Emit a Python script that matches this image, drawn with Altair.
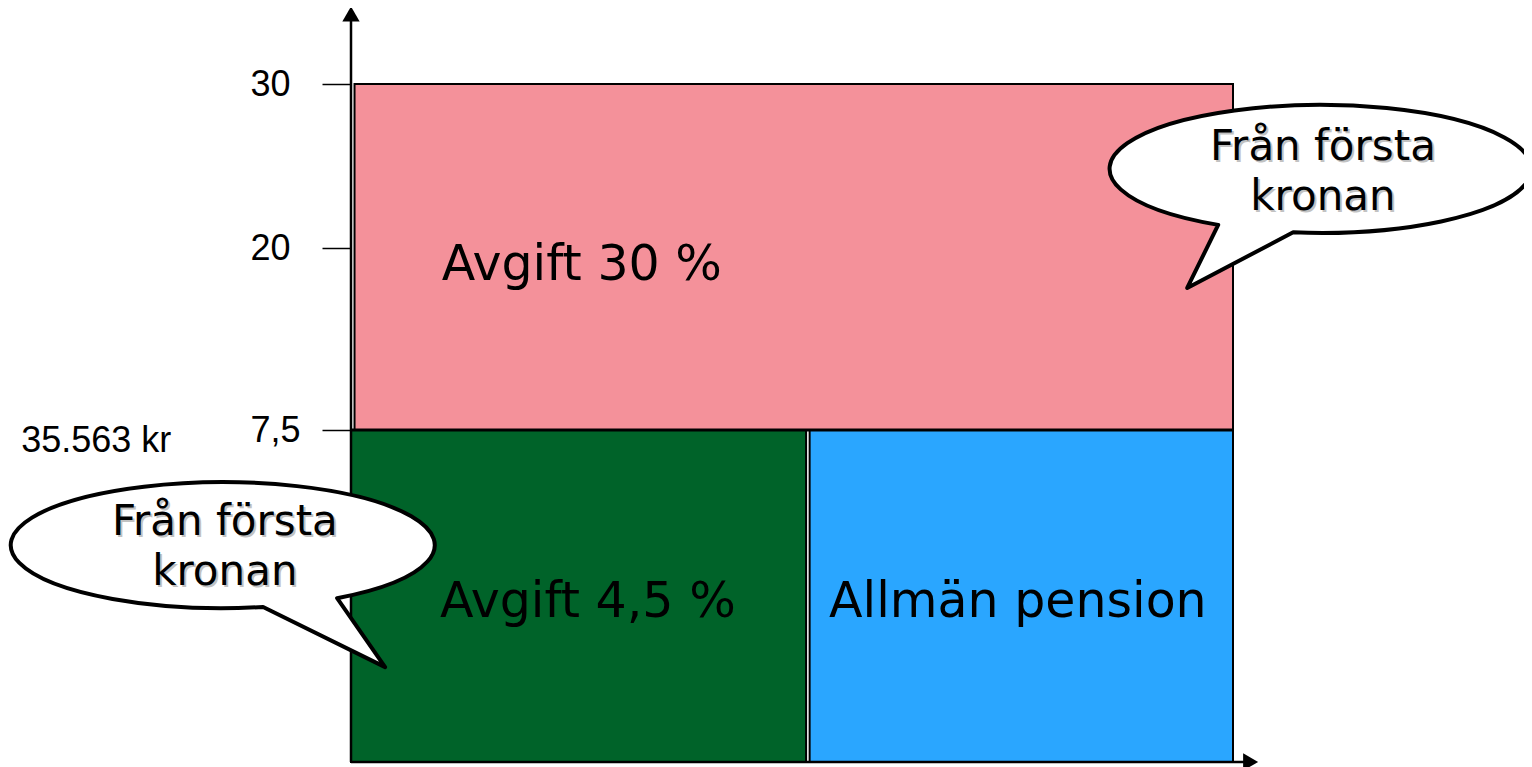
import altair as alt
import pandas as pd

# ---------------- data ----------------
# schematic, non-linear y axis (per cent of income)
Y_BREAKS = [0, 7.5, 20, 30]
Y_TICKS = [7.5, 20, 30]

BLOCK_NAMES = ["Avgift 30 %", "Avgift 4,5 %", "Allmän pension"]
BLOCK_X0 = [0.4, 0.0, 52.0]
BLOCK_X1 = [100.0, 51.6, 100.0]
BLOCK_Y0 = [7.5, 0.0, 0.0]
BLOCK_Y1 = [30.0, 7.5, 7.5]
BLOCK_COLORS = ["#F4919A", "#006329", "#2AA6FF"]

THRESHOLD_LABEL = "35.563 kr"
CALLOUT_LINES = ["Från första", "kronan"]

# axis extents (arrow heads), in data units
X_ARROW = 102.0
Y_ARROW = 34.27

# ---------------- scales ----------------
xs = alt.Scale(domain=[0, 100], range=[0, 882], nice=False, zero=False)
ys = alt.Scale(domain=Y_BREAKS, range=[754, 422, 240, 76], nice=False, zero=False)

blocks = pd.DataFrame({
    "name": BLOCK_NAMES, "x0": BLOCK_X0, "x1": BLOCK_X1,
    "y0": BLOCK_Y0, "y1": BLOCK_Y1,
})

rects = alt.Chart(blocks).mark_rect(stroke="black", strokeWidth=2).encode(
    x=alt.X("x0:Q", scale=xs, axis=None),
    x2="x1:Q",
    y=alt.Y("y0:Q", scale=ys, axis=alt.Axis(
        values=Y_TICKS, title=None, domain=False, grid=False,
        tickColor="black", tickSize=29, tickWidth=1.5,
        labelFont="Liberation Sans", labelFontSize=36, labelColor="black",
        labelAlign="left", labelPadding=72, labelBaseline="middle",
        labelExpr="replace(toString(datum.value), '.', ',')")),
    y2="y1:Q",
    fill=alt.Fill("name:N", scale=alt.Scale(domain=BLOCK_NAMES, range=BLOCK_COLORS), legend=None),
)

# thicker border between the upper block and the lower blocks
split_df = pd.DataFrame({"x0": [0.0], "x1": [100.0], "y": [7.5]})
split_line = alt.Chart(split_df).mark_rule(color="black", strokeWidth=3).encode(
    x=alt.X("x0:Q", scale=xs), x2="x1:Q", y=alt.Y("y:Q", scale=ys))

axes_df = pd.DataFrame({"x0": [0, 0], "x1": [0, X_ARROW], "y0": [0, 0], "y1": [Y_ARROW, 0]})
axis_lines = alt.Chart(axes_df).mark_rule(color="black", strokeWidth=2.5).encode(
    x=alt.X("x0:Q", scale=xs), x2="x1:Q",
    y=alt.Y("y0:Q", scale=ys), y2="y1:Q",
)

arrow_up = alt.Chart(pd.DataFrame({"x": [0], "y": [Y_ARROW]})).mark_point(
    shape="triangle-up", filled=True, color="black", opacity=1, size=300).encode(
    x=alt.X("x:Q", scale=xs), y=alt.Y("y:Q", scale=ys))
arrow_right = alt.Chart(pd.DataFrame({"x": [X_ARROW], "y": [0]})).mark_point(
    shape="triangle-right", filled=True, color="black", opacity=1, size=300).encode(
    x=alt.X("x:Q", scale=xs), y=alt.Y("y:Q", scale=ys))

# block labels
label_df = pd.DataFrame({
    "text": BLOCK_NAMES,
    "x": [10.3, 10.1, 54.2],
    "y": [17.8, 3.28, 3.28],
})
block_labels = alt.Chart(label_df).mark_text(
    font="DejaVu Sans", fontSize=49, align="left", baseline="alphabetic", color="black").encode(
    x=alt.X("x:Q", scale=xs), y=alt.Y("y:Q", scale=ys), text="text:N")

thr = alt.Chart(pd.DataFrame({"text": [THRESHOLD_LABEL], "x": [-37.4], "y": [7.0]})).mark_text(
    font="Liberation Sans", fontSize=36, align="left", baseline="alphabetic", color="black").encode(
    x=alt.X("x:Q", scale=xs), y=alt.Y("y:Q", scale=ys), text="text:N")

# speech bubbles (custom symbol paths, unit scale with size=4)
TOP_BUBBLE = "M -103 55.9 A 211 64 0 1 1 -28 63.4 L -134 119 Z"
BOTTOM_BUBBLE = "M 114 53.1 A 212 63 0 1 0 40 61.9 L 162 122 Z"

bubble_top = alt.Chart(pd.DataFrame({"x": [110.0], "y": [24.82]})).mark_point(
    shape=TOP_BUBBLE, size=4, filled=True, fill="white", stroke="black",
    strokeWidth=4, opacity=1, strokeJoin="round").encode(
    x=alt.X("x:Q", scale=xs), y=alt.Y("y:Q", scale=ys))
bubble_bottom = alt.Chart(pd.DataFrame({"x": [-14.5], "y": [4.90]})).mark_point(
    shape=BOTTOM_BUBBLE, size=4, filled=True, fill="white", stroke="black",
    strokeWidth=4, opacity=1, strokeJoin="round").encode(
    x=alt.X("x:Q", scale=xs), y=alt.Y("y:Q", scale=ys))

callout_df = pd.DataFrame({
    "text": CALLOUT_LINES + CALLOUT_LINES,
    "x": [110.2, 110.2, -14.3, -14.3],
    "y": [25.37, 22.3, 5.13, 4.0],
})
callout_shadow = alt.Chart(callout_df).mark_text(
    font="DejaVu Sans", fontSize=42, align="center", baseline="alphabetic",
    color="#9a9a9a", opacity=0.6, dx=2, dy=2).encode(
    x=alt.X("x:Q", scale=xs), y=alt.Y("y:Q", scale=ys), text="text:N")
callout_text = alt.Chart(callout_df).mark_text(
    font="DejaVu Sans", fontSize=42, align="center", baseline="alphabetic", color="black").encode(
    x=alt.X("x:Q", scale=xs), y=alt.Y("y:Q", scale=ys), text="text:N")

chart = alt.layer(
    rects, split_line, axis_lines, arrow_up, arrow_right, block_labels, thr,
    bubble_top, bubble_bottom, callout_shadow, callout_text,
).properties(
    width=1173, height=759,
    autosize=alt.AutoSizeParams(type="none"),
    padding={"left": 343, "top": 0, "right": 0, "bottom": 0},
).configure_view(stroke=None)

chart.save("out.html", embed_options={"renderer": "svg", "actions": False})
